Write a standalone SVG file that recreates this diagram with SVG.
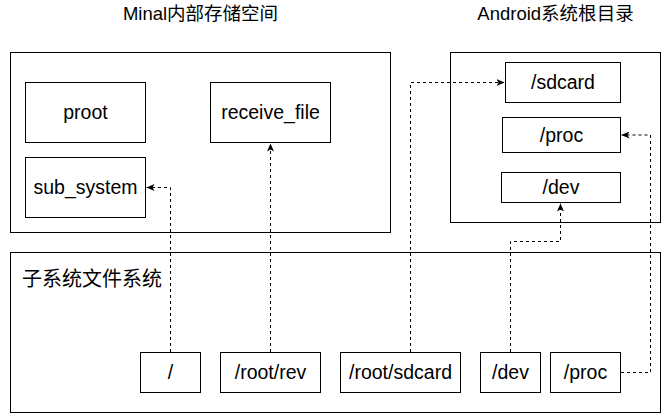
<svg xmlns="http://www.w3.org/2000/svg" width="661" height="413" viewBox="0 0 661 413">
<style>
.box{fill:#fff;stroke:#000;stroke-width:1}
.frame{fill:none;stroke:#000;stroke-width:1}
.t{font-family:"Liberation Sans","Noto Sans CJK SC",sans-serif;font-size:19.5px;fill:#000;text-anchor:middle}
.title{font-family:"Liberation Sans","Noto Sans CJK SC",sans-serif;font-size:18.5px;fill:#000;text-anchor:middle}
.lbl{font-family:"Noto Sans CJK SC",sans-serif;font-size:20px;fill:#000}
.c{fill:none;stroke:#000;stroke-width:1;stroke-dasharray:3 3;marker-end:url(#arr)}
</style>
<defs>
<marker id="arr" markerUnits="userSpaceOnUse" viewBox="0 0 8 7" refX="8" refY="3.5" markerWidth="8" markerHeight="7" orient="auto">
<path d="M0,0 L8,3.5 L0,7 L2,3.5 Z" fill="#000"/>
</marker>
</defs>
<rect width="661" height="413" fill="#fff"/>

<g id="minal">
<rect class="frame" x="10.5" y="52.5" width="380" height="180"/>
<text class="title" x="200.5" y="20">Minal内部存储空间</text>
</g>
<g id="android">
<rect class="frame" x="450.5" y="52.5" width="210" height="170"/>
<text class="title" x="555.5" y="20">Android系统根目录</text>
</g>
<g id="subfs">
<rect class="frame" x="10.5" y="252.5" width="650" height="160"/>
<text class="lbl" x="22" y="286">子系统文件系统</text>
</g>

<g id="proot"><rect class="box" x="25.5" y="82.5" width="120" height="60"/><text class="t" x="85.5" y="119">proot</text></g>
<g id="receive_file"><rect class="box" x="210.5" y="82.5" width="120" height="60"/><text class="t" x="270.5" y="119">receive_file</text></g>
<g id="sub_system"><rect class="box" x="25.5" y="157.5" width="120" height="60"/><text class="t" x="85.5" y="194">sub_system</text></g>

<g id="a_sdcard"><rect class="box" x="505.5" y="62.5" width="115" height="40"/><text class="t" x="563" y="89">/sdcard</text></g>
<g id="a_proc"><rect class="box" x="502.5" y="117.5" width="118" height="35"/><text class="t" x="561.5" y="142">/proc</text></g>
<g id="a_dev"><rect class="box" x="501.5" y="172.5" width="119" height="30"/><text class="t" x="561" y="194">/dev</text></g>

<g id="s_root"><rect class="box" x="140.5" y="352.5" width="60" height="40"/><text class="t" x="170.5" y="379">/</text></g>
<g id="s_rootrev"><rect class="box" x="220.5" y="352.5" width="100" height="40"/><text class="t" x="270.5" y="379">/root/rev</text></g>
<g id="s_rootsdcard"><rect class="box" x="340.5" y="352.5" width="120" height="40"/><text class="t" x="400.5" y="379">/root/sdcard</text></g>
<g id="s_dev"><rect class="box" x="480.5" y="352.5" width="60" height="40"/><text class="t" x="510.5" y="379">/dev</text></g>
<g id="s_proc"><rect class="box" x="550.5" y="352.5" width="70" height="40"/><text class="t" x="585.5" y="379">/proc</text></g>

<g id="connectors">
<path class="c" d="M170.5,352 V187.5 H146.5"/>
<path class="c" d="M270.5,352 V143.5"/>
<path class="c" d="M410.5,352 V82.5 H504.5"/>
<path class="c" d="M510.5,352 V241.5 H560.5 V203.5"/>
<path class="c" d="M621,372.5 H650.5 V135 H621.5"/>
</g>
</svg>
